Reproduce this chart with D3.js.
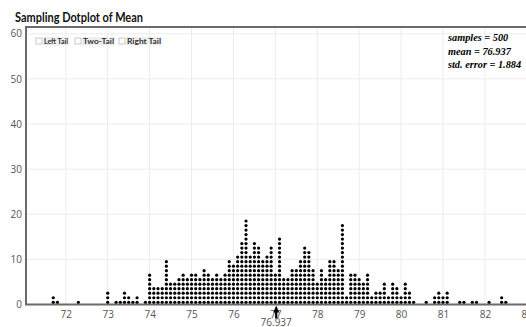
<!DOCTYPE html>
<html>
<head>
<meta charset="utf-8">
<script src="https://cdn.jsdelivr.net/npm/d3@7/dist/d3.min.js"></script>
<style>
  html, body { margin: 0; padding: 0; background: #fff; }
  #chart { width: 526px; height: 327px; overflow: hidden; }
</style>
</head>
<body>
<div id="chart"></div>
<script>
// bin centre (sample mean) and how many dots are stacked on it
const binValues = [71.7, 71.8, 72.3, 73.0, 73.2, 73.3, 73.4, 73.5, 73.6, 73.7, 73.9,
  74.0, 74.1, 74.2, 74.3, 74.4, 74.5, 74.6, 74.7, 74.8, 74.9,
  75.0, 75.1, 75.2, 75.3, 75.4, 75.5, 75.6, 75.7, 75.8, 75.9,
  76.0, 76.1, 76.2, 76.3, 76.4, 76.5, 76.6, 76.7, 76.8, 76.9,
  77.0, 77.1, 77.2, 77.3, 77.4, 77.5, 77.6, 77.7, 77.8, 77.9,
  78.0, 78.1, 78.2, 78.3, 78.4, 78.5, 78.6, 78.7, 78.8, 78.9,
  79.0, 79.1, 79.2, 79.3, 79.4, 79.5, 79.6, 79.7, 79.8, 79.9,
  80.0, 80.1, 80.2, 80.3, 80.6, 80.8, 80.9,
  81.0, 81.1, 81.4, 81.5, 81.7, 81.8, 82.1, 82.4, 82.5];
const binCounts = [2, 1, 1, 3, 1, 1, 3, 2, 1, 2, 1,
  7, 4, 4, 4, 10, 5, 5, 6, 7, 6,
  7, 7, 6, 8, 7, 6, 7, 6, 7, 10,
  9, 11, 14, 19, 11, 14, 13, 10, 11, 13,
  7, 15, 6, 6, 8, 8, 10, 13, 12, 8,
  5, 8, 6, 10, 10, 8, 18, 2, 7, 7,
  6, 5, 7, 2, 3, 3, 5, 2, 5, 4,
  2, 5, 3, 1, 1, 2, 3,
  2, 3, 1, 1, 1, 1, 1, 2, 1];

const xTicks = [72, 73, 74, 75, 76, 77, 78, 79, 80, 81, 82, 83];
const yTicks = [0, 10, 20, 30, 40, 50, 60];
const tailButtons = ["Left Tail", "Two-Tail", "Right Tail"];
const statLines = ["samples = 500", "mean = 76.937", "std. error = 1.884"];
const meanValue = 76.937;

const W = 526, H = 327;
const plotLeft = 26, plotTop = 27, plotBottom = 304.5;

const svg = d3.select("#chart").append("svg")
  .attr("width", W).attr("height", H)
  .attr("font-family", "Lato, 'DejaVu Sans', sans-serif");

const x = d3.scaleLinear().domain([71.05, 83]).range([plotLeft, 526.8]);
const y = d3.scaleLinear().domain([0, 61.5]).range([plotBottom, plotTop]);

// title
svg.append("text")
  .attr("x", 15).attr("y", 22)
  .attr("font-size", 12.5).attr("font-weight", "bold").attr("fill", "#111")
  .attr("textLength", 128).attr("lengthAdjust", "spacingAndGlyphs")
  .text("Sampling Dotplot of Mean");

// grid
svg.append("g").selectAll("line").data(yTicks.filter(d => d > 0)).join("line")
  .attr("x1", plotLeft).attr("x2", W)
  .attr("y1", d => y(d)).attr("y2", d => y(d))
  .attr("stroke", "#ececec").attr("stroke-width", 1);
svg.append("g").selectAll("line").data(xTicks).join("line")
  .attr("x1", d => x(d)).attr("x2", d => x(d))
  .attr("y1", plotTop).attr("y2", plotBottom)
  .attr("stroke", "#ececec").attr("stroke-width", 1);

// axes (labels only, no tick marks)
const yAxis = svg.append("g")
  .attr("transform", `translate(${plotLeft - 4},0)`)
  .call(d3.axisLeft(y).tickValues(yTicks).tickSize(0).tickPadding(0));
const xAxis = svg.append("g")
  .attr("transform", `translate(0,${plotBottom + 6})`)
  .call(d3.axisBottom(x).tickValues(xTicks).tickSize(0).tickPadding(0));
[yAxis, xAxis].forEach(g => {
  g.select(".domain").remove();
  g.selectAll("text").attr("font-size", 10).attr("fill", "#555")
    .attr("font-family", "'Open Sans', 'DejaVu Sans', sans-serif");
});
xAxis.selectAll("text").attr("dy", "0.71em");

// frame
svg.append("path")
  .attr("d", `M${W},${plotTop}H${plotLeft}V${plotBottom}H${W}`)
  .attr("fill", "none").attr("stroke", "#6a6a6a").attr("stroke-width", 2);

// dots
const dots = binValues.flatMap((v, i) => d3.range(binCounts[i]).map(k => ({ v, k })));
svg.append("g").selectAll("circle").data(dots).join("circle")
  .attr("cx", d => x(d.v))
  .attr("cy", d => y(d.k + 0.5))
  .attr("r", 1.6)
  .attr("fill", "#000");

// mean marker (the pointer image sits a little right of the exact value)
const mx = x(meanValue) + 3.5;
svg.append("path")
  .attr("d", `M${mx - 3},${plotBottom + 8}L${mx},${plotBottom + 1}L${mx + 3},${plotBottom + 8}Z`)
  .attr("fill", "#000");
svg.append("rect")
  .attr("x", mx - 1.1).attr("y", plotBottom + 7).attr("width", 2.2).attr("height", 7)
  .attr("fill", "#000");
svg.append("text")
  .attr("x", mx).attr("y", 326).attr("text-anchor", "middle")
  .attr("font-size", 10).attr("fill", "#555")
  .attr("font-family", "'Open Sans', 'DejaVu Sans', sans-serif")
  .text(meanValue.toFixed(3));

// tail check buttons
const btnX = [36, 75, 119];
const btnW = [26, 33, 36];
tailButtons.forEach((t, i) => {
  const g = svg.append("g").attr("transform", `translate(${btnX[i]},37)`);
  g.append("rect").attr("x", 0).attr("y", 1).attr("width", 6).attr("height", 6)
    .attr("fill", "#fff").attr("stroke", "#bbb").attr("stroke-width", 0.8);
  g.append("rect").attr("x", 7).attr("y", 0).attr("width", btnW[i]).attr("height", 8.5)
    .attr("fill", "#eeeeee");
  g.append("text").attr("x", 8).attr("y", 6.6)
    .attr("font-size", 7.2).attr("font-weight", "bold").attr("fill", "#333")
    .attr("textLength", btnW[i] - 2).attr("lengthAdjust", "spacingAndGlyphs")
    .text(t);
});

// stats box
svg.append("g").selectAll("text").data(statLines).join("text")
  .attr("x", 448).attr("y", (d, i) => 41 + i * 13.5)
  .attr("font-family", "'Liberation Serif', 'DejaVu Serif', serif")
  .attr("font-size", 10.3).attr("font-weight", "bold").attr("font-style", "italic")
  .attr("fill", "#000")
  .text(d => d);
</script>
</body>
</html>
